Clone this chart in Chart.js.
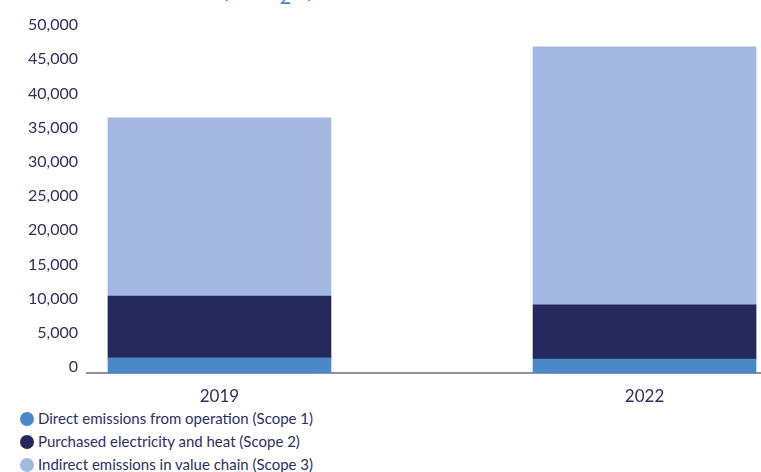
<!DOCTYPE html>
<html>
<head>
<meta charset="utf-8">
<script src="https://cdn.jsdelivr.net/npm/chart.js@4"></script>
<style>
  html, body { margin: 0; padding: 0; background: #fff; overflow: hidden; }
  #wrap { position: relative; width: 761px; height: 472px; font-family: Lato, sans-serif; }
  #unit { position: absolute; left: 222px; top: -26px; font-size: 24px; letter-spacing: 2px; color: #4a89c8; white-space: nowrap; }
  #chartBox { position: absolute; left: 0; top: 0; width: 761px; height: 407px; }
  #legend { position: absolute; left: 20px; top: 407px; color: #2d2f5e; font-size: 15px; }
  #legend div { height: 23px; line-height: 23px; display: flex; align-items: center; white-space: nowrap; }
  #legend span.dot { display: inline-block; width: 14px; height: 14px; border-radius: 50%; margin-right: 4px; }
</style>
</head>
<body>
<div id="wrap">
  <div id="unit">(tCO<sub>2</sub>e)</div>
  <div id="chartBox"><canvas id="emissionsChart"></canvas></div>
  <div id="legend"></div>
</div>
<script>
// years and emissions per scope (tCO2e)
const years = [2019, 2022];
const scope1 = [2200, 2050];
const scope2 = [9050, 7900];
const scope3 = [26050, 37750];
const yTicks = [0, 5000, 10000, 15000, 20000, 25000, 30000, 35000, 40000, 45000, 50000];

const seriesNames = [
    'Direct emissions from operation (Scope 1)',
    'Purchased electricity and heat (Scope 2)',
    'Indirect emissions in value chain (Scope 3)'
];
const seriesColours = ['#4a89c8', '#24285c', '#a2b8e0'];

const textColour = '#2d2f5e';

function toPoints(values) {
    return years.map((yr, i) => ({ x: yr, y: values[i] }));
}

const ctx = document.getElementById('emissionsChart').getContext('2d');
const chart = new Chart(ctx, {
    type: 'bar',
    data: {
        datasets: [scope1, scope2, scope3].map((values, i) => ({
            label: seriesNames[i],
            data: toPoints(values),
            backgroundColor: seriesColours[i],
            borderWidth: 0,
            barThickness: 223
        }))
    },
    options: {
        responsive: true,
        maintainAspectRatio: false,
        animation: false,
        layout: { padding: { top: 31, right: 0, bottom: 0, left: 0 } },
        plugins: {
            legend: { display: false },
            tooltip: { enabled: false }
        },
        scales: {
            x: {
                type: 'linear',
                stacked: true,
                offset: false,
                min: 2018.065,
                max: 2022.822,
                afterBuildTicks: scale => {
                    scale.ticks = years.map(v => ({ value: v }));
                },
                afterFit: scale => { scale.height = 34; },
                grid: { display: false, drawTicks: false },
                border: { display: true, color: '#8f8eab', width: 2 },
                ticks: {
                    padding: 13,
                    color: textColour,
                    font: { family: 'Lato', size: 17 },
                    callback: v => String(v)
                }
            },
            y: {
                stacked: true,
                min: 0,
                max: 50000,
                afterBuildTicks: scale => {
                    scale.ticks = yTicks.map(v => ({ value: v }));
                },
                afterFit: scale => { scale.width = 87; },
                grid: { display: false, drawTicks: false },
                border: { display: false },
                ticks: {
                    padding: 9,
                    labelOffset: -6,
                    color: textColour,
                    font: { family: 'Lato', size: 16 },
                    callback: v => v.toLocaleString('en-US')
                }
            }
        }
    }
});

// html legend, one line per scope
const legendEl = document.getElementById('legend');
chart.data.datasets.forEach(ds => {
    const row = document.createElement('div');
    const dot = document.createElement('span');
    dot.className = 'dot';
    dot.style.background = ds.backgroundColor;
    row.appendChild(dot);
    row.appendChild(document.createTextNode(ds.label));
    legendEl.appendChild(row);
});
</script>
</body>
</html>
